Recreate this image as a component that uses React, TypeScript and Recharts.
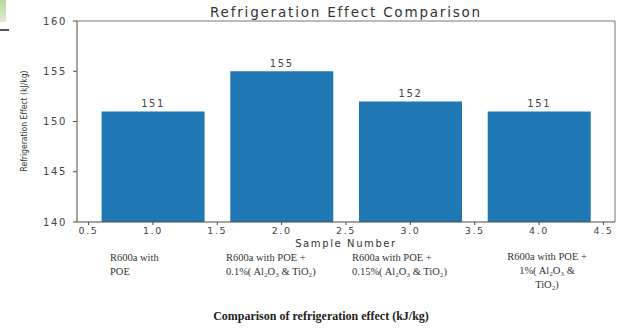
import React from "react";
import { BarChart, Bar, XAxis, YAxis, LabelList, ReferenceLine } from "recharts";

const samples = [1, 2, 3, 4];
const effects = [151, 155, 152, 151];
const xTicks = [0.5, 1.0, 1.5, 2.0, 2.5, 3.0, 3.5, 4.0, 4.5];
const yTicks = [140, 145, 150, 155, 160];
const sampleNames = [
  ["R600a with", "POE"],
  ["R600a with POE +", "0.1%( Al₂O₃ & TiO₂)"],
  ["R600a with POE +", "0.15%( Al₂O₃ & TiO₂)"],
  ["R600a with POE +", "1%( Al₂O₃ &", "TiO₂)"],
];

const data = samples.map((s, i) => ({ sample: s, effect: effects[i] }));

const W = 622;
const H = 329;
const BAR = "#1f77b4";
const AXIS = "#4a4a4a";
const X_DOMAIN = [0.41, 4.59];
const tickStyle = { fill: "#444", fontSize: 10, fontFamily: "DejaVu Sans", letterSpacing: 1.6 };

const noteStyle: React.CSSProperties = {
  position: "absolute",
  fontFamily: "Liberation Serif",
  fontSize: 10.5,
  lineHeight: "14px",
  color: "#333",
  whiteSpace: "nowrap",
};

export default function App() {
  return (
    <div style={{ position: "absolute", left: 0, top: 0, width: W, height: H, background: "#fff", overflow: "hidden" }}>
      {/* scrap of a neighbouring figure at the top-left edge */}
      <div style={{ position: "absolute", left: 0, top: 0, width: 6, height: 22, background: "linear-gradient(#b9d79a, #dfeccd)" }} />
      <div style={{ position: "absolute", left: 0, top: 29, width: 9, height: 2, background: "#555" }} />

      <BarChart
        width={W}
        height={H}
        data={data}
        margin={{ top: 21, right: 7, bottom: 77, left: 17 }}
      >
        <XAxis
          dataKey="sample"
          type="number"
          domain={X_DOMAIN}
          ticks={xTicks}
          tickFormatter={(v: number) => v.toFixed(1)}
          allowDataOverflow
          height={30}
          tick={{ ...tickStyle, fontSize: 9.5 }}
          tickSize={3}
          tickLine={{ stroke: AXIS }}
          axisLine={{ stroke: AXIS }}
          label={{
            value: "Sample Number",
            position: "insideBottom",
            offset: 5,
            style: { fill: "#333", fontSize: 10, fontFamily: "DejaVu Sans", letterSpacing: 1.6 },
          }}
        />
        <YAxis
          domain={[140, 160]}
          ticks={yTicks}
          width={60}
          tick={{ ...tickStyle, dx: -4 }}
          tickSize={4}
          tickLine={{ stroke: AXIS }}
          axisLine={{ stroke: AXIS }}
          label={{
            value: "Refrigeration Effect (kJ/kg)",
            angle: -90,
            position: "insideLeft",
            offset: 7,
            dy: 50,
            style: { fill: "#333", fontSize: 8.5, fontFamily: "DejaVu Sans Condensed" },
          }}
        />
        {/* matplotlib-style frame on the top and right */}
        <ReferenceLine y={160} stroke="#777" ifOverflow="extendDomain" />
        <ReferenceLine x={X_DOMAIN[1]} stroke="#777" ifOverflow="extendDomain" />
        <Bar dataKey="effect" fill={BAR} barSize={103} isAnimationActive={false}>
          <LabelList
            dataKey="effect"
            position="top"
            offset={4}
            style={{ fill: "#444", fontSize: 10, fontFamily: "DejaVu Sans", letterSpacing: 1.6 }}
          />
        </Bar>
      </BarChart>

      <div
        style={{
          position: "absolute",
          left: 77,
          width: 538,
          top: 4,
          textAlign: "center",
          fontFamily: "DejaVu Sans",
          fontSize: 13.5,
          letterSpacing: 1.8,
          color: "#333",
        }}
      >
        Refrigeration Effect Comparison
      </div>

      <div style={{ ...noteStyle, left: 110, top: 251 }}>
        {sampleNames[0].map((l) => <div key={l}>{l}</div>)}
      </div>
      <div style={{ ...noteStyle, left: 226, top: 251 }}>
        {sampleNames[1].map((l) => <div key={l}>{l}</div>)}
      </div>
      <div style={{ ...noteStyle, left: 352, top: 251 }}>
        {sampleNames[2].map((l) => <div key={l}>{l}</div>)}
      </div>
      <div style={{ ...noteStyle, left: 487, width: 120, top: 250, textAlign: "center" }}>
        {sampleNames[3].map((l) => <div key={l}>{l}</div>)}
      </div>

      <div
        style={{
          position: "absolute",
          left: 0,
          width: 642,
          top: 309,
          textAlign: "center",
          fontFamily: "Liberation Serif",
          fontWeight: "bold",
          fontSize: 12,
          color: "#222",
        }}
      >
        Comparison of refrigeration effect (kJ/kg)
      </div>
    </div>
  );
}
